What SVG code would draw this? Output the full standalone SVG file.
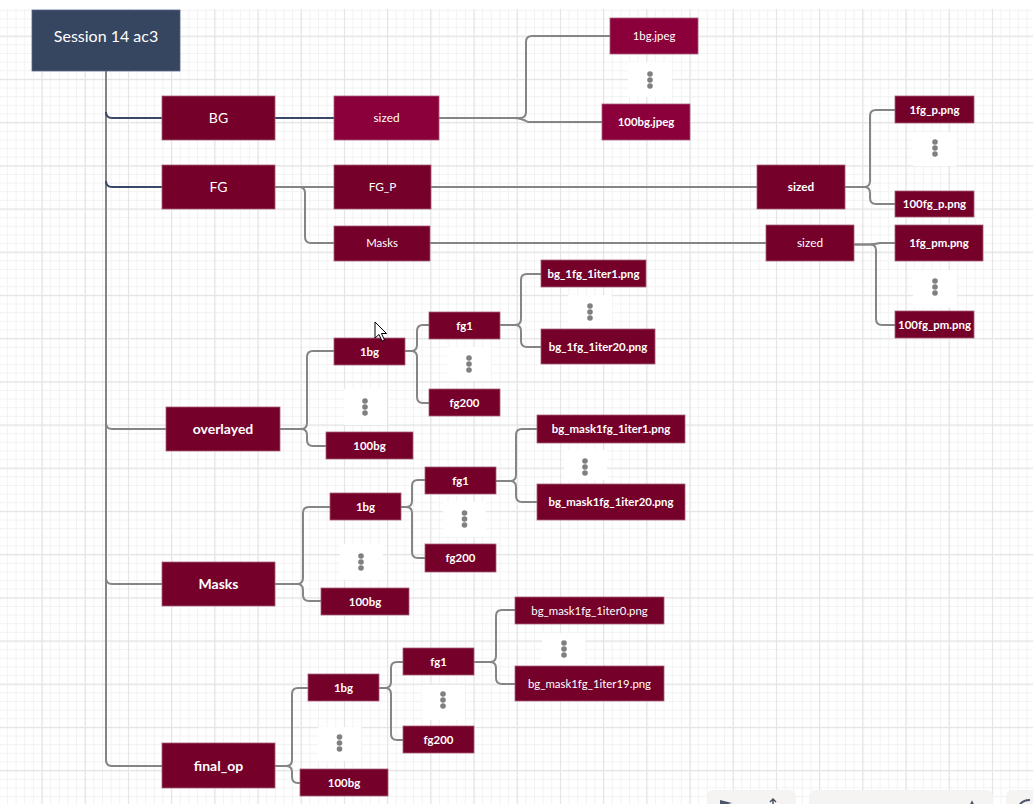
<svg xmlns="http://www.w3.org/2000/svg" width="1033" height="804" viewBox="0 0 1033 804">
<defs>
<pattern id="minor" patternUnits="userSpaceOnUse" x="41.5" y="35.7" width="8.64" height="8.64">
<path d="M0 0.5 H8.64 M0.5 0 V8.64" fill="none" stroke="#f2f2f2" stroke-width="1"/>
</pattern>
<pattern id="major" patternUnits="userSpaceOnUse" x="41.5" y="35.7" width="43.2" height="43.2">
<path d="M0 0.5 H43.2 M0.5 0 V43.2" fill="none" stroke="#e4e4e4" stroke-width="1.3"/>
</pattern>
<style>
.n{stroke:#a5607a;stroke-width:0.8}
.dk{fill:#75002a}
.cr{fill:#8b003b}
.nv{fill:#364560;stroke:#5a6888;stroke-width:0.8}
text{font-family:Lato,"Noto Sans","Liberation Sans",sans-serif;fill:#ffffff;text-anchor:middle}
.s11{font-size:11.4px}
.s12{font-size:11.8px}
.s14{font-size:14px}
.b{font-weight:bold}
.c{fill:none;stroke:#858585;stroke-width:2}
.cn{fill:none;stroke:#3a4868;stroke-width:2}
.db{fill:#ffffff}
.d{fill:#808080}
</style>
</defs>
<rect width="1033" height="804" fill="#ffffff"/>
<rect x="0" y="9" width="1033" height="795" fill="url(#minor)"/>
<rect x="0" y="9" width="1033" height="795" fill="url(#major)"/>

<g id="connectors">
<path class="c" d="M106 71 V760 Q106 766 112 766 H162"/>
<path class="cn" d="M106 112 Q106 118 112 118 H162"/>
<path class="cn" d="M106 181 Q106 187 112 187 H162"/>
<path class="c" d="M106 423 Q106 429 112 429 H166"/>
<path class="c" d="M106 578 Q106 584 112 584 H162"/>
<path class="cn" d="M275 118 H334"/>
<path class="c" d="M439 118 H520 Q526 118 526 112 V42 Q526 36 532 36 H610"/>
<path class="c" d="M439 118 H514 Q521 118 528 122 H602"/>
<path class="c" d="M275 187 H334"/>
<path class="c" d="M275 187 H299 Q305 187 305 193 V237 Q305 243 311 243 H334"/>
<path class="c" d="M431 187 H757"/>
<path class="c" d="M430 243 H766"/>
<path class="c" d="M845 187 H864 Q870 187 870 181 V116 Q870 110 876 110 H895"/>
<path class="c" d="M845 187 H864 Q870 187 870 193 V198 Q870 204 876 204 H895"/>
<path class="c" d="M854 244.5 H868 Q874 244.5 880 243 H895"/>
<path class="c" d="M854 244.5 H870 Q876 244.5 876 250 V319 Q876 325 882 325 H895"/>
<path class="c" d="M280 429 H301 Q307 429 307 423 V357 Q307 351 313 351 H334"/>
<path class="c" d="M280 429 H301 Q307 429 307 435 V440 Q307 446 313 446 H326"/>
<path class="c" d="M405 351 H411 Q417 351 417 345 V331 Q417 325 423 325 H429"/>
<path class="c" d="M405 351 H411 Q417 351 417 357 V397 Q417 403 423 403 H429"/>
<path class="c" d="M500 325 H515 Q521 325 521 319 V280 Q521 274 527 274 H541"/>
<path class="c" d="M500 325 H515 Q521 325 521 331 V341 Q521 347 527 347 H541"/>
<path class="c" d="M275 584 H297 Q303 584 303 578 V513 Q303 507 309 507 H330"/>
<path class="c" d="M275 584 H297 Q303 584 303 590 V595 Q303 601 309 601 H321"/>
<path class="c" d="M401 507 H406 Q412 507 412 501 V486 Q412 480 418 480 H425"/>
<path class="c" d="M401 507 H406 Q412 507 412 513 V552 Q412 558 418 558 H425"/>
<path class="c" d="M496 481 H510 Q516 481 516 475 V435 Q516 429 522 429 H537"/>
<path class="c" d="M496 481 H510 Q516 481 516 487 V496 Q516 502 522 502 H537"/>
<path class="c" d="M275 766 H286 Q292 766 292 760 V694 Q292 688 298 688 H308"/>
<path class="c" d="M275 766 H286 Q292 766 292 772 V777 Q292 783 298 783 H300"/>
<path class="c" d="M379 688 H385 Q391 688 391 682 V668 Q391 662 397 662 H403"/>
<path class="c" d="M379 688 H385 Q391 688 391 694 V734 Q391 740 397 740 H403"/>
<path class="c" d="M474 662 H490 Q496 662 496 656 V616 Q496 610 502 610 H515"/>
<path class="c" d="M474 662 H490 Q496 662 496 668 V678 Q496 684 502 684 H515"/>
</g>

<g id="session"><rect class="nv" x="32" y="10" width="148" height="61"/><text x="106" y="42" style="font-size:16px">Session 14 ac3</text></g>
<g id="bg"><rect class="n dk" x="162" y="96" width="113" height="44"/><text class="s14" x="218.5" y="123">BG</text></g>
<g id="fg"><rect class="n dk" x="162" y="165" width="113" height="44"/><text class="s14" x="218.5" y="192">FG</text></g>
<g id="sized-bg"><rect class="n cr" x="334" y="96" width="105" height="44"/><text class="s12" x="386.5" y="122">sized</text></g>
<g id="bg1-jpeg"><rect class="n cr" x="610" y="18" width="88" height="36"/><text class="s11" x="654" y="40">1bg.jpeg</text></g>
<g id="dots-bg"><rect class="db" x="628" y="62" width="44" height="35"/><circle class="d" cx="650" cy="74" r="2.8"/><circle class="d" cx="650" cy="80" r="2.8"/><circle class="d" cx="650" cy="86" r="2.8"/></g>
<g id="bg100-jpeg"><rect class="n cr" x="602" y="104" width="88" height="36"/><text class="s11 b" x="646" y="126">100bg.jpeg</text></g>
<g id="fg-p"><rect class="n dk" x="334" y="165" width="97" height="44"/><text class="s12" x="382.5" y="191">FG_P</text></g>
<g id="masks-top"><rect class="n dk" x="334" y="226" width="96" height="35"/><text class="s11" x="382" y="247">Masks</text></g>
<g id="sized-p"><rect class="n dk" x="757" y="165" width="88" height="44"/><text class="s12 b" x="801" y="191">sized</text></g>
<g id="fg1-p"><rect class="n dk" x="895" y="96" width="79" height="27"/><text class="s11 b" x="934.5" y="113.5">1fg_p.png</text></g>
<g id="dots-p"><rect class="db" x="913" y="132" width="44" height="34"/><circle class="d" cx="935" cy="142" r="2.8"/><circle class="d" cx="935" cy="148" r="2.8"/><circle class="d" cx="935" cy="154" r="2.8"/></g>
<g id="fg100-p"><rect class="n dk" x="895" y="191" width="79" height="26"/><text class="s11 b" x="934.5" y="208">100fg_p.png</text></g>
<g id="sized-pm"><rect class="n dk" x="766" y="225" width="88" height="36"/><text class="s12" x="810" y="247">sized</text></g>
<g id="fg1-pm"><rect class="n dk" x="895" y="225" width="88" height="36"/><text class="s11 b" x="939" y="247">1fg_pm.png</text></g>
<g id="dots-pm"><rect class="db" x="913" y="270" width="44" height="37"/><circle class="d" cx="935" cy="281" r="2.8"/><circle class="d" cx="935" cy="287" r="2.8"/><circle class="d" cx="935" cy="293" r="2.8"/></g>
<g id="fg100-pm"><rect class="n dk" x="895" y="311" width="79" height="27"/><text class="s11 b" x="934.5" y="328.5">100fg_pm.png</text></g>

<g id="overlayed"><rect class="n dk" x="166" y="407" width="114" height="44"/><text class="s14 b" x="223" y="434">overlayed</text></g>
<g id="ov-1bg"><rect class="n dk" x="334" y="338" width="71" height="27"/><text class="s11 b" x="369.5" y="355.5">1bg</text></g>
<g id="dots-ov-bg"><rect class="db" x="344" y="389" width="43" height="36"/><circle class="d" cx="365" cy="401" r="2.8"/><circle class="d" cx="365" cy="407" r="2.8"/><circle class="d" cx="365" cy="413" r="2.8"/></g>
<g id="ov-100bg"><rect class="n dk" x="326" y="432" width="87" height="27"/><text class="s11 b" x="369.5" y="449.5">100bg</text></g>
<g id="ov-fg1"><rect class="n dk" x="429" y="312" width="71" height="27"/><text class="s11 b" x="464.5" y="329.5">fg1</text></g>
<g id="dots-ov-fg"><rect class="db" x="447" y="347" width="44" height="34"/><circle class="d" cx="469" cy="358" r="2.8"/><circle class="d" cx="469" cy="364" r="2.8"/><circle class="d" cx="469" cy="370" r="2.8"/></g>
<g id="ov-fg200"><rect class="n dk" x="429" y="389" width="71" height="27"/><text class="s11 b" x="464.5" y="406.5">fg200</text></g>
<g id="ov-iter1"><rect class="n dk" x="541" y="260" width="105" height="27"/><text class="s11 b" x="593.5" y="277.5">bg_1fg_1iter1.png</text></g>
<g id="dots-ov-iter"><rect class="db" x="568" y="295" width="44" height="34"/><circle class="d" cx="590" cy="306" r="2.8"/><circle class="d" cx="590" cy="312" r="2.8"/><circle class="d" cx="590" cy="318" r="2.8"/></g>
<g id="ov-iter20"><rect class="n dk" x="541" y="329" width="114" height="35"/><text class="s11 b" x="598" y="350.5">bg_1fg_1iter20.png</text></g>

<g id="masks"><rect class="n dk" x="162" y="562" width="113" height="44"/><text class="s14 b" x="218.5" y="589">Masks</text></g>
<g id="m-1bg"><rect class="n dk" x="330" y="493" width="71" height="27"/><text class="s11 b" x="365.5" y="510.5">1bg</text></g>
<g id="dots-m-bg"><rect class="db" x="340" y="544" width="43" height="36"/><circle class="d" cx="361" cy="556" r="2.8"/><circle class="d" cx="361" cy="562" r="2.8"/><circle class="d" cx="361" cy="568" r="2.8"/></g>
<g id="m-100bg"><rect class="n dk" x="321" y="588" width="88" height="27"/><text class="s11 b" x="365" y="605.5">100bg</text></g>
<g id="m-fg1"><rect class="n dk" x="425" y="467" width="71" height="27"/><text class="s11 b" x="460.5" y="484.5">fg1</text></g>
<g id="dots-m-fg"><rect class="db" x="443" y="502" width="43" height="35"/><circle class="d" cx="464.5" cy="513" r="2.8"/><circle class="d" cx="464.5" cy="519" r="2.8"/><circle class="d" cx="464.5" cy="525" r="2.8"/></g>
<g id="m-fg200"><rect class="n dk" x="425" y="544" width="71" height="28"/><text class="s11 b" x="460.5" y="562">fg200</text></g>
<g id="m-iter1"><rect class="n dk" x="537" y="415" width="148" height="28"/><text class="s11 b" x="611" y="433">bg_mask1fg_1iter1.png</text></g>
<g id="dots-m-iter"><rect class="db" x="564" y="450" width="43" height="30"/><circle class="d" cx="585" cy="461" r="2.8"/><circle class="d" cx="585" cy="467" r="2.8"/><circle class="d" cx="585" cy="473" r="2.8"/></g>
<g id="m-iter20"><rect class="n dk" x="537" y="484" width="148" height="36"/><text class="s11 b" x="611" y="506">bg_mask1fg_1iter20.png</text></g>

<g id="final-op"><rect class="n dk" x="162" y="743" width="113" height="45"/><text class="s14 b" x="218.5" y="771">final_op</text></g>
<g id="f-1bg"><rect class="n dk" x="308" y="674" width="71" height="27"/><text class="s11 b" x="343.5" y="691.5">1bg</text></g>
<g id="dots-f-bg"><rect class="db" x="318" y="727" width="43" height="34"/><circle class="d" cx="339.5" cy="737" r="2.8"/><circle class="d" cx="339.5" cy="743" r="2.8"/><circle class="d" cx="339.5" cy="749" r="2.8"/></g>
<g id="f-100bg"><rect class="n dk" x="300" y="769" width="88" height="27"/><text class="s11 b" x="344" y="786.5">100bg</text></g>
<g id="f-fg1"><rect class="n dk" x="403" y="648" width="71" height="27"/><text class="s11 b" x="438.5" y="665.5">fg1</text></g>
<g id="dots-f-fg"><rect class="db" x="422" y="685" width="43" height="35"/><circle class="d" cx="443" cy="694" r="2.8"/><circle class="d" cx="443" cy="700" r="2.8"/><circle class="d" cx="443" cy="706" r="2.8"/></g>
<g id="f-fg200"><rect class="n dk" x="403" y="726" width="71" height="27"/><text class="s11 b" x="438.5" y="743.5">fg200</text></g>
<g id="f-iter0"><rect class="n dk" x="515" y="597" width="149" height="27"/><text class="s11" x="589.5" y="614.5">bg_mask1fg_1iter0.png</text></g>
<g id="dots-f-iter"><rect class="db" x="542" y="633" width="43" height="32"/><circle class="d" cx="564" cy="643" r="2.8"/><circle class="d" cx="564" cy="649" r="2.8"/><circle class="d" cx="564" cy="655" r="2.8"/></g>
<g id="f-iter19"><rect class="n dk" x="515" y="666" width="149" height="35"/><text class="s11" x="589.5" y="687.5">bg_mask1fg_1iter19.png</text></g>

<path d="M375 322 L375 338 L379 334.5 L382 341 L384.5 340 L381.5 333.5 L386.5 333.5 Z" fill="#ffffff" stroke="#000000" stroke-width="1"/>

<g id="toolbar">
<rect x="707" y="790" width="89" height="24" rx="6" fill="#f5f4f2"/>
<rect x="809" y="790" width="184" height="24" rx="6" fill="#f5f4f2"/>
<rect x="1006" y="790" width="40" height="24" rx="6" fill="#f5f4f2"/>
<path d="M720 800 L732 803 L720 806 Z" fill="#4a5568"/>
<path d="M773 806 V800 M770 802 L773 799 L776 802" fill="none" stroke="#4a5568" stroke-width="1.5"/>
<path d="M970 806 L972 802 L974 806" fill="none" stroke="#4a5568" stroke-width="1.5"/>
<path d="M1019 806 Q1022 800 1030 800" fill="none" stroke="#4a5568" stroke-width="2"/>
</g>
</svg>
